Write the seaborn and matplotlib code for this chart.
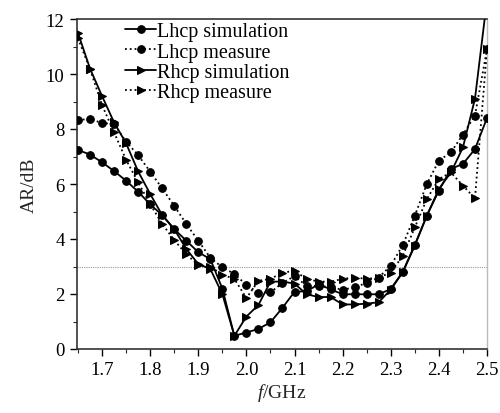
import matplotlib
matplotlib.use("Agg")
import matplotlib.pyplot as plt
import seaborn as sns
import numpy as np
from matplotlib.ticker import MultipleLocator

sns.set_theme(style="white")
plt.rcParams['font.family'] = ['Liberation Serif', 'DejaVu Serif']
plt.rcParams['mathtext.fontset'] = 'custom'
plt.rcParams['mathtext.it'] = 'Liberation Serif:italic'
plt.rcParams['mathtext.rm'] = 'Liberation Serif'

freq = [1.65, 1.675, 1.70, 1.725, 1.75, 1.775, 1.80, 1.825, 1.85, 1.875, 1.90, 1.925,
        1.95, 1.975, 2.00, 2.025, 2.05, 2.075, 2.10, 2.125, 2.15, 2.175, 2.20, 2.225,
        2.25, 2.275, 2.30, 2.325, 2.35, 2.375, 2.40, 2.425, 2.45, 2.475, 2.50]

lhcp_sim = [7.24, 7.07, 6.79, 6.47, 6.12, 5.72, 5.26, 4.87, 4.36, 3.94, 3.52, 3.27,
            2.2, 0.48, 0.6, 0.73, 0.97, 1.5, 2.08, 2.1, 2.35, 2.17, 1.99, 1.99,
            1.99, 1.99, 2.18, 2.81, 3.79, 4.85, 5.76, 6.55, 6.73, 7.27, 8.4]

lhcp_meas = [8.33, 8.36, 8.22, 8.18, 7.54, 7.05, 6.45, 5.84, 5.21, 4.55, 3.94, 3.32,
             2.97, 2.73, 2.33, 2.05, 2.06, 2.4, 2.65, 2.3, 2.3, 2.25, 2.15, 2.25,
             2.4, 2.6, 3.03, 3.78, 4.85, 6.0, 6.85, 7.15, 7.8, 8.49, 10.9]

rhcp_sim = [11.49, 10.2, 9.2, 8.24, 7.48, 6.46, 5.64, 4.87, 4.36, 3.64, 3.09, 2.91,
            2.0, 0.48, 1.18, 1.6, 2.45, 2.45, 2.38, 1.99, 1.89, 1.89, 1.62, 1.62,
            1.65, 1.7, 2.16, 2.79, 3.76, 4.85, 5.82, 6.42, 7.33, 9.1, 12.7]

rhcp_meas = [11.3, 10.18, 8.87, 7.88, 6.88, 6.06, 5.27, 4.55, 3.96, 3.45, 3.05, 3.0,
             2.7, 2.55, 1.85, 2.48, 2.55, 2.78, 2.84, 2.55, 2.45, 2.45, 2.55, 2.6,
             2.55, 2.6, 2.78, 3.39, 4.42, 5.45, 6.18, 6.42, 5.94, 5.48, 10.9]

labels = ["Lhcp simulation", "Lhcp measure", "Rhcp simulation", "Rhcp measure"]
series = [lhcp_sim, lhcp_meas, rhcp_sim, rhcp_meas]
styles = ["-", ":", "-", ":"]
markers = ["o", "o", ">", ">"]

fig = plt.figure(figsize=(5.0, 4.14), dpi=100)
ax = fig.add_axes([77/500, 1-350/414, 410/500, 330/414])

ax.axhline(3, color="#999999", lw=0.8, ls=(0, (1, 1)), zorder=1)

for lab, vals, ls, mk in zip(labels, series, styles, markers):
    sns.lineplot(x=freq, y=vals, ax=ax, color="black", linestyle=ls, lw=1.3,
                 marker=mk, markersize=5.5, markeredgecolor="black",
                 markerfacecolor="black", label=lab, sort=False, zorder=3)

ax.set_xlim(1.648, 2.5)
ax.set_ylim(0, 12)
ax.xaxis.set_major_locator(MultipleLocator(0.1))
ax.xaxis.set_minor_locator(MultipleLocator(0.05))
ax.yaxis.set_major_locator(MultipleLocator(2))
ax.yaxis.set_minor_locator(MultipleLocator(1))
ax.xaxis.set_major_formatter(matplotlib.ticker.FormatStrFormatter('%.1f'))
ax.tick_params(which="major", direction="out", length=5, width=1, labelsize=13.5,
               bottom=True, left=True, colors="black", pad=4)
ax.tick_params(which="minor", direction="out", length=3, width=0.8,
               bottom=True, left=True)

for side in ["left", "bottom", "top"]:
    ax.spines[side].set_color("#333333")
    ax.spines[side].set_linewidth(1.2)
ax.spines["right"].set_color("#bbbbbb")
ax.spines["right"].set_linewidth(1.0)

ax.set_xlabel(r"$f$/GHz", fontsize=14, labelpad=2)
ax.set_ylabel("AR/dB", fontsize=14, labelpad=6)

leg = ax.legend(loc="upper left", bbox_to_anchor=(0.117, 0.99), frameon=False,
                fontsize=14.5, handlelength=1.55, handletextpad=0.05,
                labelspacing=0.05, borderpad=0, borderaxespad=0)
for t in leg.get_texts():
    t.set_color("black")

fig.savefig("out.png", dpi=100)
